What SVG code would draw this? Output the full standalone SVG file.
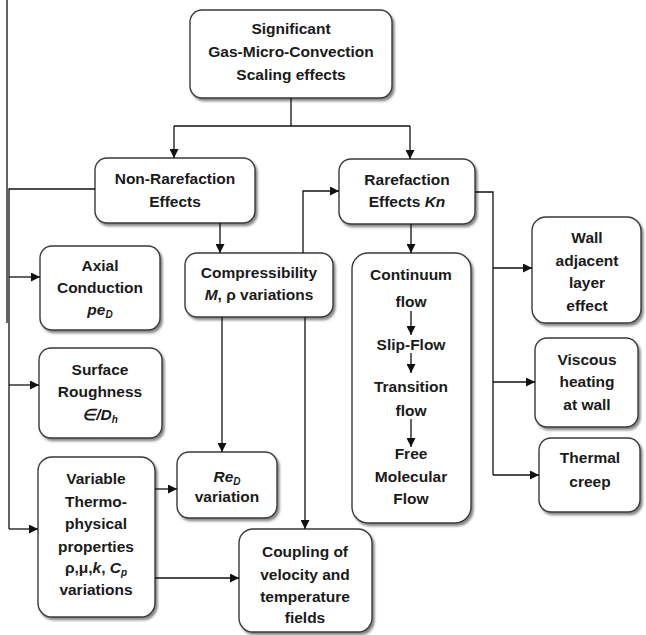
<svg xmlns="http://www.w3.org/2000/svg" width="646" height="635" viewBox="0 0 646 635">
<style>
  .box { fill: #ffffff; stroke: #3a3a3a; stroke-width: 1.4; filter: url(#sh); }
  .t { font-family: "Liberation Sans", Arial, sans-serif; font-weight: bold; font-size: 15.5px; fill: #1a1a1a; text-anchor: middle; }
  .it { font-style: italic; }
  .sub { font-size: 10px; }
  .ln { fill: none; stroke: #111; stroke-width: 1.3; }
  .ar { fill: none; stroke: #111; stroke-width: 1.3; marker-end: url(#ah); }
</style>
<defs>
  <filter id="sh" x="-10%" y="-10%" width="125%" height="125%">
    <feDropShadow dx="2" dy="2.5" stdDeviation="1.2" flood-color="#555" flood-opacity="0.7"/>
  </filter>
  <marker id="ah" viewBox="0 0 10 10" refX="10" refY="5" markerWidth="9" markerHeight="9" markerUnits="userSpaceOnUse" orient="auto">
    <path d="M0,0 L10,5 L0,10 z" fill="#111"/>
  </marker>
</defs>
<rect width="646" height="635" fill="#ffffff"/>

<g id="top">
  <rect class="box" x="190" y="10" width="202" height="88" rx="12"/>
  <text class="t" x="291" y="34">Significant</text>
  <text class="t" x="291" y="57">Gas-Micro-Convection</text>
  <text class="t" x="291" y="80">Scaling effects</text>
</g>

<g id="nonrare">
  <rect class="box" x="95" y="158" width="160" height="65" rx="12"/>
  <text class="t" x="175" y="184">Non-Rarefaction</text>
  <text class="t" x="175" y="207">Effects</text>
</g>

<g id="rare">
  <rect class="box" x="339" y="159" width="136" height="65" rx="12"/>
  <text class="t" x="407" y="185">Rarefaction</text>
  <text class="t" x="407" y="207">Effects <tspan class="it">Kn</tspan></text>
</g>

<g id="axial">
  <rect class="box" x="40" y="246" width="120" height="84" rx="12"/>
  <text class="t" x="100" y="271">Axial</text>
  <text class="t" x="100" y="293">Conduction</text>
  <text class="t" x="100" y="315"><tspan class="it">pe</tspan><tspan class="it sub" dy="3">D</tspan></text>
</g>

<g id="compress">
  <rect class="box" x="185" y="253" width="148" height="64" rx="12"/>
  <text class="t" x="259" y="278">Compressibility</text>
  <text class="t" x="259" y="300"><tspan class="it">M</tspan>, ρ variations</text>
</g>

<g id="continuum">
  <rect class="box" x="352" y="253" width="119" height="270" rx="16"/>
  <text class="t" x="411" y="280">Continuum</text>
  <text class="t" x="411" y="307">flow</text>
  <text class="t" x="411" y="350">Slip-Flow</text>
  <text class="t" x="411" y="392">Transition</text>
  <text class="t" x="411" y="416">flow</text>
  <text class="t" x="411" y="459">Free</text>
  <text class="t" x="411" y="482">Molecular</text>
  <text class="t" x="411" y="504">Flow</text>
</g>

<g id="wall">
  <rect class="box" x="532" y="217" width="109" height="106" rx="14"/>
  <text class="t" x="587" y="243">Wall</text>
  <text class="t" x="587" y="266">adjacent</text>
  <text class="t" x="587" y="288">layer</text>
  <text class="t" x="587" y="311">effect</text>
</g>

<g id="surface">
  <rect class="box" x="39" y="348" width="123" height="90" rx="12"/>
  <text class="t" x="100" y="375">Surface</text>
  <text class="t" x="100" y="397">Roughness</text>
  <text class="t" x="100" y="420"><tspan class="it">∈/D</tspan><tspan class="it sub" dy="3">h</tspan></text>
</g>

<g id="viscous">
  <rect class="box" x="535" y="338" width="103" height="89" rx="12"/>
  <text class="t" x="587" y="365">Viscous</text>
  <text class="t" x="587" y="387">heating</text>
  <text class="t" x="587" y="410">at wall</text>
</g>

<g id="thermal">
  <rect class="box" x="539" y="438" width="101" height="74" rx="12"/>
  <text class="t" x="590" y="463">Thermal</text>
  <text class="t" x="590" y="487">creep</text>
</g>

<g id="variable">
  <rect class="box" x="38" y="457" width="117" height="160" rx="14"/>
  <text class="t" x="96" y="484">Variable</text>
  <text class="t" x="96" y="507">Thermo-</text>
  <text class="t" x="96" y="529">physical</text>
  <text class="t" x="96" y="552">properties</text>
  <text class="t" x="96" y="573">ρ,μ,<tspan class="it">k</tspan>, <tspan class="it">C</tspan><tspan class="it sub" dy="3">p</tspan></text>
  <text class="t" x="96" y="595">variations</text>
</g>

<g id="red">
  <rect class="box" x="177" y="452" width="100" height="66" rx="12"/>
  <text class="t" x="227" y="482"><tspan class="it">Re</tspan><tspan class="it sub" dy="3">D</tspan></text>
  <text class="t" x="227" y="502">variation</text>
</g>

<g id="coupling">
  <rect class="box" x="239" y="529" width="133" height="103" rx="14"/>
  <text class="t" x="305" y="557">Coupling of</text>
  <text class="t" x="305" y="580">velocity and</text>
  <text class="t" x="305" y="602">temperature</text>
  <text class="t" x="305" y="623">fields</text>
</g>

<g id="connectors">
  <line class="ln" x1="7" y1="0" x2="7" y2="323"/>
  <path class="ln" d="M291,98 V126"/>
  <path class="ln" d="M174,126 H410"/>
  <path class="ar" d="M174,126 V158"/>
  <path class="ar" d="M410,126 V159"/>
  <path class="ln" d="M95,189 H9 V529"/>
  <path class="ar" d="M9,277 H40"/>
  <path class="ar" d="M9,385 H39"/>
  <path class="ar" d="M9,529 H38"/>
  <path class="ar" d="M220,223 V253"/>
  <path class="ar" d="M222,317 V452"/>
  <path class="ar" d="M303,253 V191 H339"/>
  <path class="ar" d="M305,317 V529"/>
  <path class="ar" d="M411,224 V253"/>
  <path class="ln" d="M475,192 H493 V475"/>
  <path class="ar" d="M493,268 H532"/>
  <path class="ar" d="M493,382 H535"/>
  <path class="ar" d="M493,475 H539"/>
  <path class="ar" d="M155,489 H177"/>
  <path class="ar" d="M155,578 H239"/>
  <path class="ar" d="M411,311 V335"/>
  <path class="ar" d="M411,353 V373"/>
  <path class="ar" d="M411,419 V447"/>
</g>
</svg>
